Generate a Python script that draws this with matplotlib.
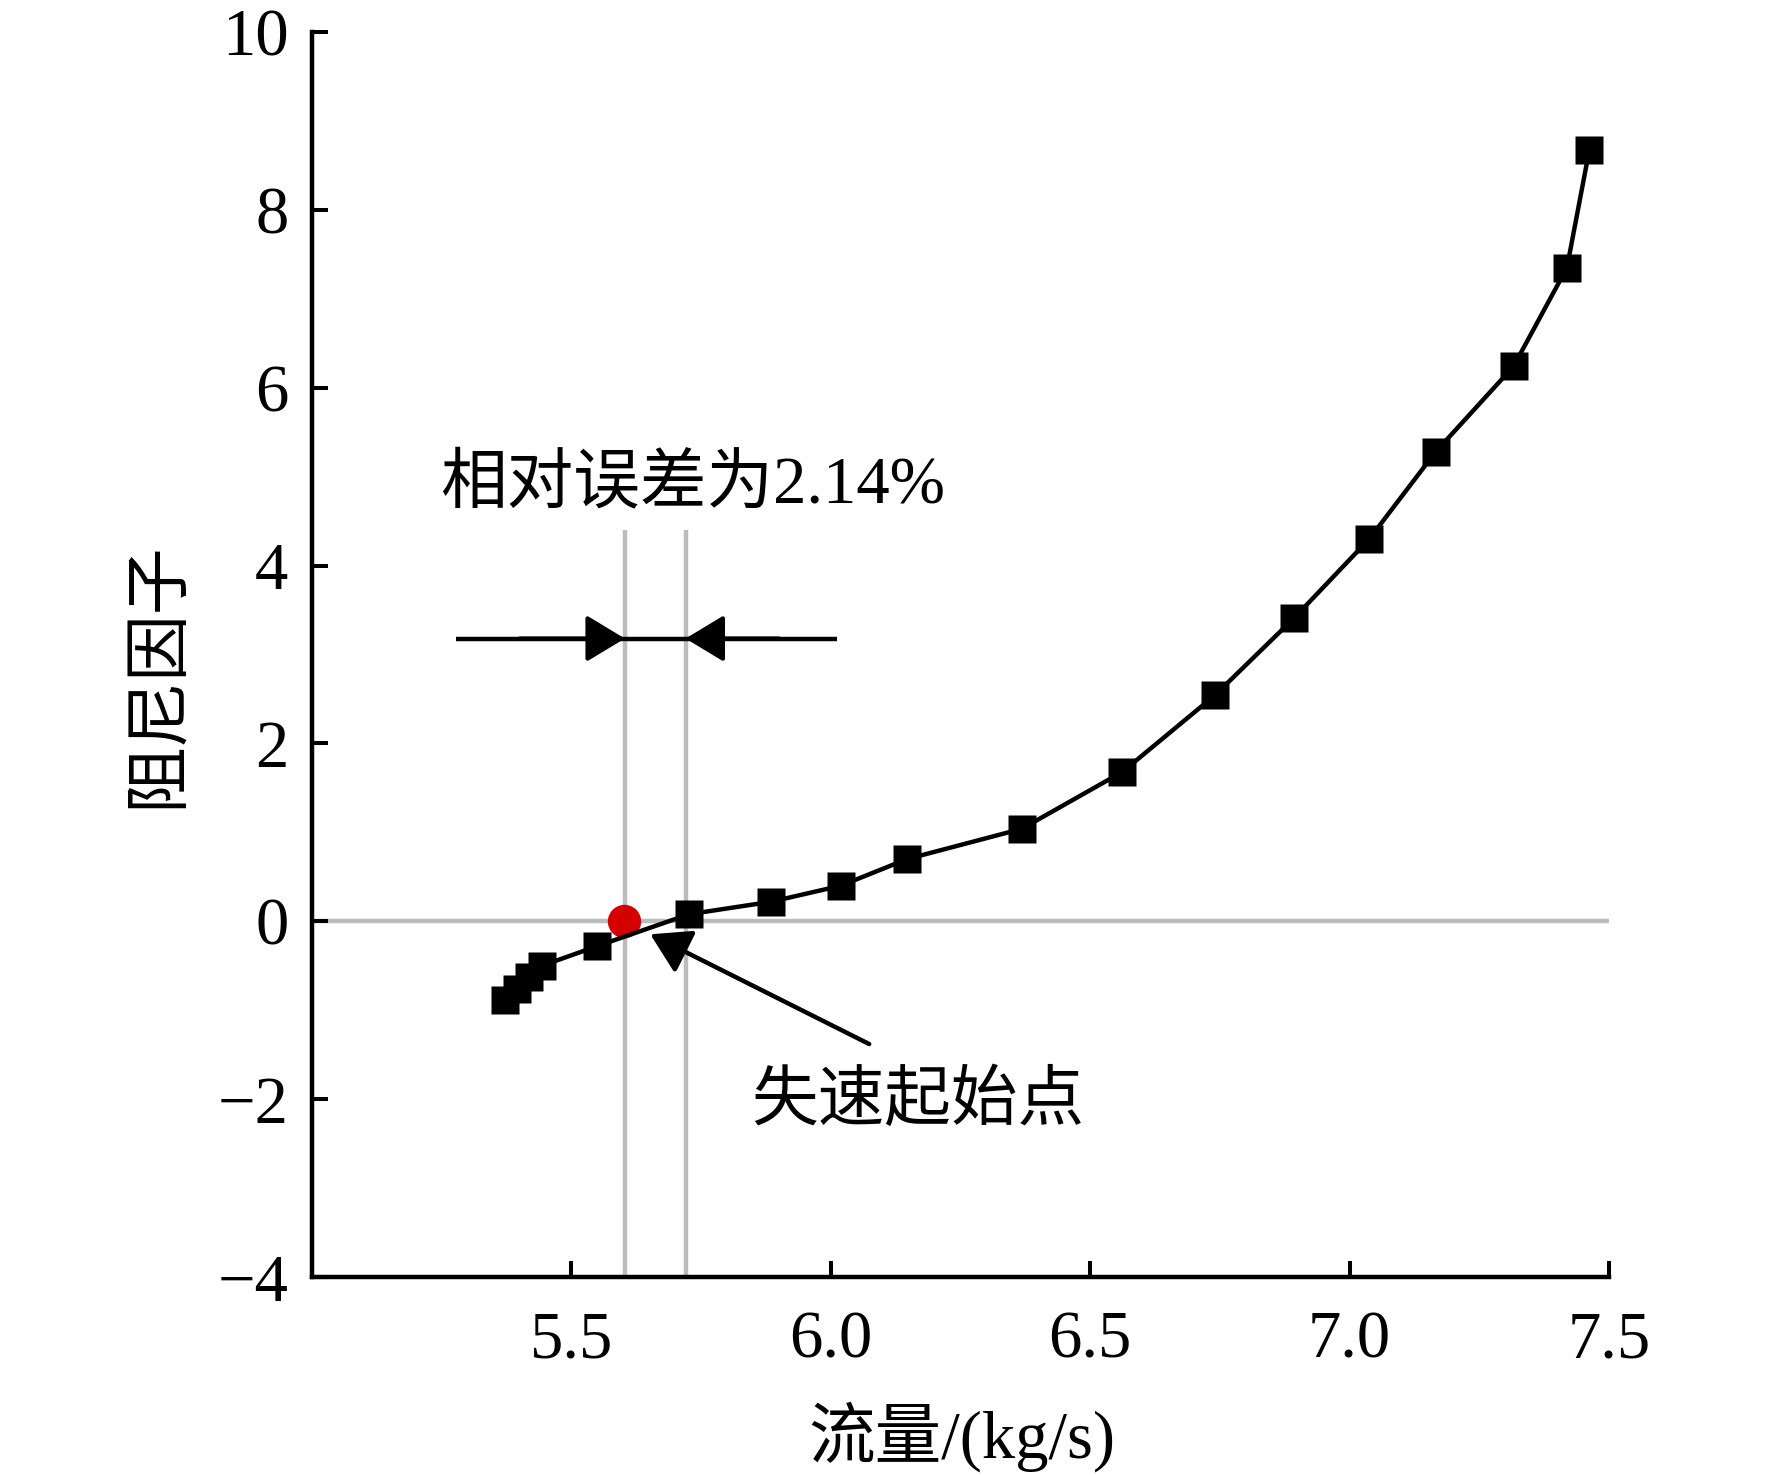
import matplotlib
matplotlib.use('Agg')
import matplotlib.pyplot as plt

# ---- data ----
flow = [5.371, 5.395, 5.419, 5.443, 5.549, 5.727, 5.885, 6.019, 6.147,
        6.368, 6.562, 6.740, 6.893, 7.038, 7.166, 7.316, 7.419, 7.462]
damping = [-0.88, -0.76, -0.63, -0.50, -0.28, 0.08, 0.22, 0.40, 0.70,
           1.04, 1.68, 2.54, 3.41, 4.30, 5.28, 6.24, 7.35, 8.67]
stall_x = [5.602]
stall_y = [0.0]
ref_lines_x = [5.603, 5.720]
x_ticks = [5.5, 6.0, 6.5, 7.0, 7.5]
x_ticklabels = ['5.5', '6.0', '6.5', '7.0', '7.5']
y_ticks = [-4, -2, 0, 2, 4, 6, 8, 10]
y_ticklabels = ['\u22124', '\u22122', '0', '2', '4', '6', '8', '10']
xlabel = '流量/(kg/s)'
ylabel = '阻尼因子'
err_text = '相对误差为2.14%'
stall_text = '失速起始点'

plt.rcParams['font.family'] = ['Liberation Serif', 'Noto Sans CJK SC']
plt.rcParams['font.size'] = 48

fig = plt.figure(figsize=(17.72, 14.76), dpi=100)
ax = fig.add_axes([0.1761, 0.1348, 0.7319, 0.8435])

ax.set_xlim(5.0, 7.5)
ax.set_ylim(-4, 10)

gray = '#bcbcbc'
ax.axhline(0, color=gray, lw=3.2, zorder=1)
ax.vlines(ref_lines_x, -4, 4.40, colors=gray, lw=3.2, zorder=1)

ax.plot(stall_x, stall_y, 'o', color='#d40000', ms=24, mec='none', zorder=2)
ax.plot(flow, damping, '-s', color='black', lw=3.2, ms=19.5, mec='none', zorder=3)

# dimension arrows
dim_y = 3.18
ax.plot([5.278, 6.012], [dim_y, dim_y], color='black', lw=3.2, solid_capstyle='butt', zorder=3)
head = '-|>,head_length=24,head_width=14.5'
ax.annotate('', xy=(ref_lines_x[0], dim_y), xytext=(5.40, dim_y),
            arrowprops=dict(arrowstyle=head, mutation_scale=1, color='black',
                            lw=3, shrinkA=0, shrinkB=0), zorder=4)
ax.annotate('', xy=(ref_lines_x[1], dim_y), xytext=(5.90, dim_y),
            arrowprops=dict(arrowstyle=head, mutation_scale=1, color='black',
                            lw=3, shrinkA=0, shrinkB=0), zorder=4)
ax.text(5.733, 4.90, err_text, ha='center', va='center', fontsize=48)

# stall annotation
ax.annotate('', xy=(5.652, -0.146), xytext=(6.074, -1.38),
            arrowprops=dict(arrowstyle=head, mutation_scale=1, color='black',
                            lw=3.2, shrinkA=0, shrinkB=0), zorder=4)
ax.text(6.168, -2.04, stall_text, ha='center', va='center', fontsize=48)

# axes styling
for s in ['top', 'right']:
    ax.spines[s].set_visible(False)
for s in ['left', 'bottom']:
    ax.spines[s].set_linewidth(3.2)

ax.set_xticks(x_ticks, x_ticklabels)
ax.set_yticks(y_ticks, y_ticklabels)
ax.tick_params(axis='both', direction='in', length=11.5, width=2.9, labelsize=48)
ax.tick_params(axis='x', pad=24)
ax.tick_params(axis='y', pad=17)

ax.set_xlabel(xlabel, fontsize=48)
ax.set_ylabel(ylabel, fontsize=48)
ax.xaxis.set_label_coords(0.501, -0.1285)
ax.xaxis.label.set_verticalalignment('center')
ax.yaxis.set_label_coords(-0.117, 0.484)
ax.yaxis.label.set_verticalalignment('center')

fig.savefig('out.png', dpi=100)
